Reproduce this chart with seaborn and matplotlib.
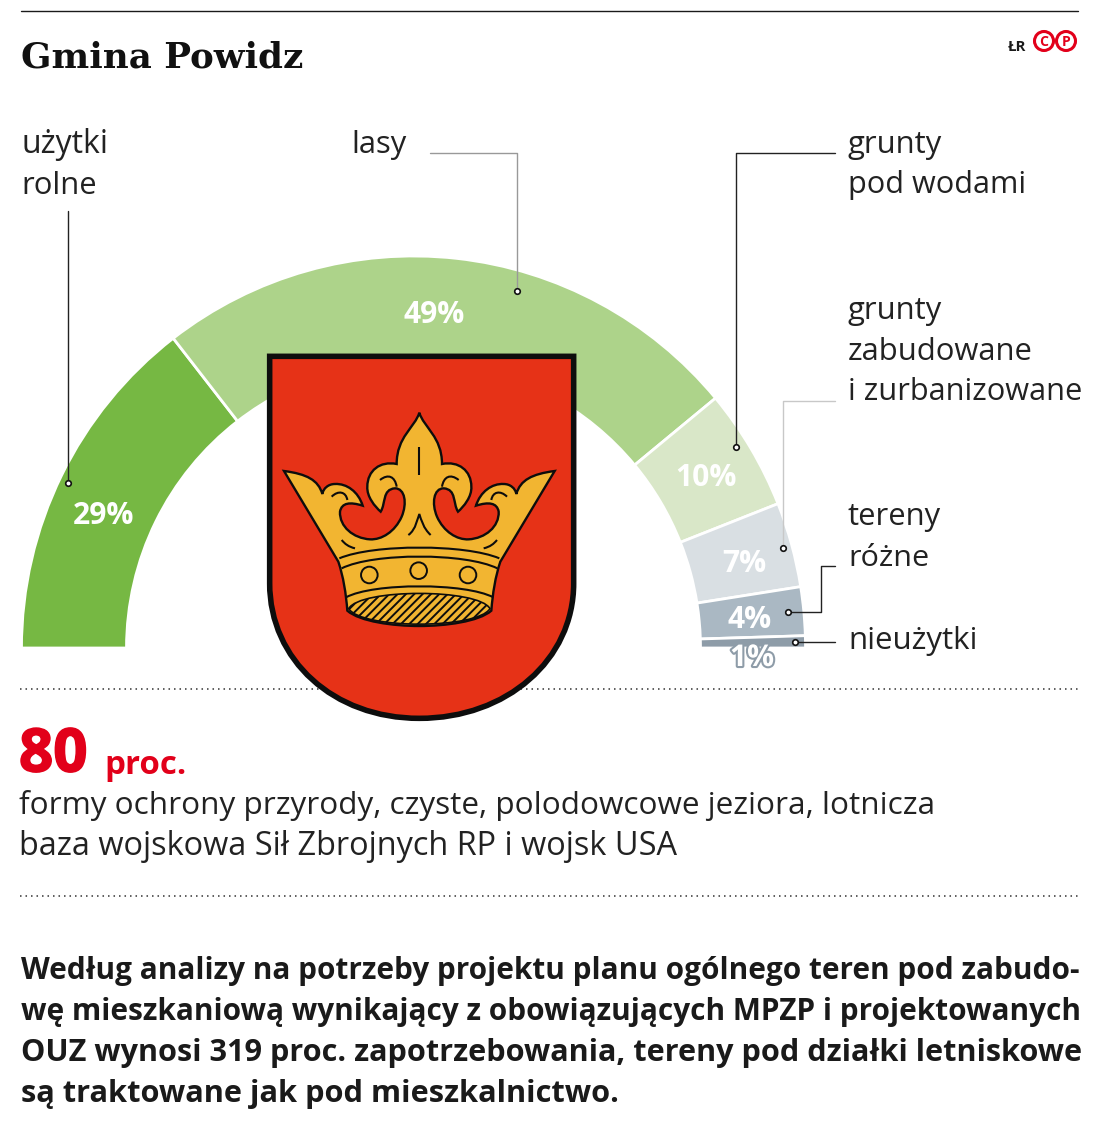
import matplotlib
matplotlib.use("Agg")
import matplotlib.pyplot as plt
import matplotlib.patheffects as pe
from matplotlib.path import Path
from matplotlib.patches import PathPatch, Circle
import seaborn as sns

# ---- data ----
categories = ["użytki rolne", "lasy", "grunty pod wodami",
              "grunty zabudowane i zurbanizowane", "tereny różne", "nieużytki"]
shares = [29, 49, 10, 7, 4, 1]
slice_colors = ["#76b843", "#add38a", "#d9e7c8", "#d9dfe3", "#aab8c3", "#8e9ca8"]
title = "Gmina Powidz"
big_number = "80"
big_unit = "proc."
sub_lines = ["formy ochrony przyrody, czyste, polodowcowe jeziora, lotnicza",
             "baza wojskowa Sił Zbrojnych RP i wojsk USA"]
body_lines = ["Według analizy na potrzeby projektu planu ogólnego teren pod zabudo-",
              "wę mieszkaniową wynikający z obowiązujących MPZP i projektowanych",
              "OUZ wynosi 319 proc. zapotrzebowania, tereny pod działki letniskowe",
              "są traktowane jak pod mieszkalnictwo."]

# ---- layout (pixel space of the reference) ----
W, H = 1098, 1148
FONT = "Open Sans"
sns.set_theme(style="white")
plt.rcParams["font.family"] = [FONT, "DejaVu Sans"]
fig = plt.figure(figsize=(W / 100, H / 100), dpi=100, facecolor="white")
ax = fig.add_axes([0, 0, 1, 1])
ax.set_xlim(0, W)
ax.set_ylim(0, H)
ax.axis("off")
ax.set_aspect("equal")

def Y(y):
    return H - y

def put(x, y, s, size, color="#1a1a1a", weight="normal", family=None, ha="left", va="center", **kw):
    return ax.text(x, Y(y), s, fontsize=size * 0.72, color=color, fontweight=weight,
                   family=family or [FONT, "DejaVu Sans"], ha=ha, va=va, **kw)

# rules
ax.plot([21, 1078], [Y(10.5)] * 2, color="#1a1a1a", lw=1.0, zorder=1)
for yy in (689, 896):
    ax.plot([20, 1078], [Y(yy)] * 2, color="#333333", lw=1.1, ls=(0, (1, 2.6)), zorder=1)

# half-donut: the hidden remainder fills the lower half of the circle
palette = sns.color_palette(slice_colors)
wedges, _ = ax.pie(shares + [sum(shares)], colors=palette + [(1, 1, 1, 0)], startangle=180,
                   counterclock=False, radius=392, center=(413.5, Y(648)),
                   wedgeprops=dict(width=105, edgecolor="white", linewidth=2), frame=True)
wedges[-1].set_visible(False)
for w in wedges:
    w.set_zorder(2)
ax.set_xlim(0, W)
ax.set_ylim(0, H)
ax.axis("off")

# percentage labels
label_xy = [(103, 516), (434, 315), (706, 478), (744, 564), (750, 620), (752, 658)]
for i, (v, (x, y)) in enumerate(zip(shares, label_xy)):
    t = put(x, y, f"{v}%", 30, color="white", weight="bold", ha="center", zorder=6)
    if i == 5:
        t.set_path_effects([pe.withStroke(linewidth=3, foreground="#8e9ca8")])

# category labels
for x, y, s, size in [(21, 144.5, "użytki", 32), (21, 185.5, "rolne", 31), (351, 144.5, "lasy", 31),
                      (848, 144.5, "grunty", 31), (848, 185.5, "pod wodami", 30.6),
                      (848, 310.5, "grunty", 31), (848, 351.5, "zabudowane", 31),
                      (848, 392.5, "i zurbanizowane", 30.8),
                      (848, 517.5, "tereny", 31), (848, 558.5, "różne", 30.5),
                      (848, 640.5, "nieużytki", 31.3)]:
    put(x, y, s, size, color="#222222")

# leader lines
leaders = [([68, 68], [211, 483], "#222222"),
           ([430, 517, 517], [153, 153, 291], "#999999"),
           ([835, 736, 736], [153, 153, 447], "#222222"),
           ([835, 783, 783], [401, 401, 548], "#c8c8c8"),
           ([835, 821, 821, 788], [566, 566, 612, 612], "#222222"),
           ([835, 795], [642, 642], "#222222")]
for xs, ys, col in leaders:
    ax.plot(xs, [Y(v) for v in ys], color=col, lw=1.0, zorder=5)
    ax.plot(xs[-1], Y(ys[-1]), "o", ms=4, mfc="white", mec="#111111", mew=1.2, zorder=7)

# coat of arms (decoration), traced in zoom coordinates
def Z(p):
    return (260 + p[0] / 3, H - (340 + p[1] / 3))

def bez(start, segs, close=False):
    v, c = [Z(start)], [Path.MOVETO]
    for s in segs:
        if len(s) == 1:
            v.append(Z(s[0])); c.append(Path.LINETO)
        else:
            v += [Z(q) for q in s]; c += [Path.CURVE4] * 3
    if close:
        v.append(Z(start)); c.append(Path.CLOSEPOLY)
    return Path(v, c)

GOLD, RED, INK = "#f2b531", "#e63217", "#0d0d0d"
ax.add_patch(PathPatch(bez((29, 49), [[(941, 49)], [(941, 730)],
                                      [(941, 960), (740, 1135), (478, 1135)],
                                      [(220, 1135), (29, 960), (29, 730)]], True),
                       fc=RED, ec=INK, lw=4.0, zorder=8, joinstyle="miter"))

left = [[(465, 262), (410, 290), (410, 372)],
        [(360, 362), (322, 392), (322, 440)],
        [(320, 470), (345, 500), (362, 515)],
        [(378, 490), (366, 448), (405, 445)],
        [(435, 445), (442, 490), (425, 530)],
        [(405, 575), (365, 600), (330, 598)],
        [(280, 595), (238, 560), (240, 515)],
        [(245, 488), (270, 485), (308, 497)],
        [(295, 455), (260, 430), (225, 432)],
        [(205, 432), (190, 445), (187, 462)],
        [(175, 420), (140, 402), (72, 393)],
        [(235, 665)],
        [(250, 710), (258, 760), (262, 812)],
        [(300, 845), (400, 858), (478, 858)]]

def mirror(p):
    return (956 - p[0], p[1])

def mirrored(start, segs):
    out = []
    ends = [start] + [s[-1] for s in segs]
    for i in range(len(segs) - 1, -1, -1):
        s = segs[i]
        prev = ends[i]
        if len(s) == 1:
            out.append([mirror(prev)])
        else:
            out.append([mirror(s[1]), mirror(s[0]), mirror(prev)])
    return out

top = (478, 218)
ax.add_patch(PathPatch(bez(top, left + mirrored(top, left), True), fc=GOLD, ec=INK, lw=1.7, zorder=9))

# hatched lining of the crown
plt.rcParams["hatch.linewidth"] = 1.4
ax.add_patch(PathPatch(bez((266, 806), [[(300, 745), (656, 745), (690, 806)],
                                        [(650, 868), (306, 868), (266, 806)]], True),
                       fc=GOLD, ec=INK, lw=1.2, hatch="////", zorder=10))

# crown details
details = [bez((238, 655), [[(340, 612), (616, 612), (718, 655)]]),
           bez((245, 685), [[(340, 638), (616, 638), (712, 685)]]),
           bez((258, 772), [[(340, 728), (616, 728), (700, 772)]]),
           bez((445, 585), [[(468, 570), (474, 530), (478, 522)], [(484, 540), (490, 565), (512, 585)]]),
           bez((478, 320), [[(478, 405)]]),
           bez((215, 470), [[(235, 450), (258, 455), (262, 480)]]),
           bez((741, 470), [[(721, 450), (698, 455), (694, 480)]]),
           bez((360, 420), [[(385, 400), (405, 410), (410, 440)]]),
           bez((596, 420), [[(571, 400), (551, 410), (546, 440)]]),
           bez((245, 600), [[(255, 612), (265, 620), (285, 625)]]),
           bez((711, 600), [[(701, 612), (691, 620), (671, 625)]])]
for p in details:
    ax.add_patch(PathPatch(p, fc="none", ec=INK, lw=1.5, zorder=11))
for cx, cy in [(328, 705), (476, 692), (624, 705)]:
    x0, y0 = Z((cx, cy))
    ax.add_patch(Circle((x0, y0), 8.3, fc=GOLD, ec=INK, lw=1.4, zorder=11))

# title and credit
put(21, 58, title, 35.6, color="#111111", weight="bold", family="DejaVu Serif")
put(1017, 47, "ŁR", 15, color="#1a1a1a", weight="bold", ha="center")
for cx, s in [(1044, "C"), (1066, "P")]:
    ax.add_patch(Circle((cx, Y(41)), 9.5, fc="white", ec="#e2001a", lw=2.2, zorder=4))
    put(cx, 41.5, s, 14, color="#e2001a", weight="bold", ha="center", zorder=5)

# headline number
put(19, 756, big_number, 60, color="#e2001a", weight="bold",
    path_effects=[pe.withStroke(linewidth=1.2, foreground="#e2001a")])
put(104, 765, big_unit, 33, color="#e2001a", weight="bold")
for yy, s, size in zip((805.5, 846.5), sub_lines, (31.5, 32.5)):
    put(19, yy, s, size, color="#222222")

# body text
for yy, s, size in zip((971, 1012, 1053, 1094), body_lines, (29.75, 29.75, 30.6, 30.8)):
    put(21, yy, s, size, color="#1a1a1a", weight="bold")

fig.savefig("out.png", dpi=100, facecolor="white")
